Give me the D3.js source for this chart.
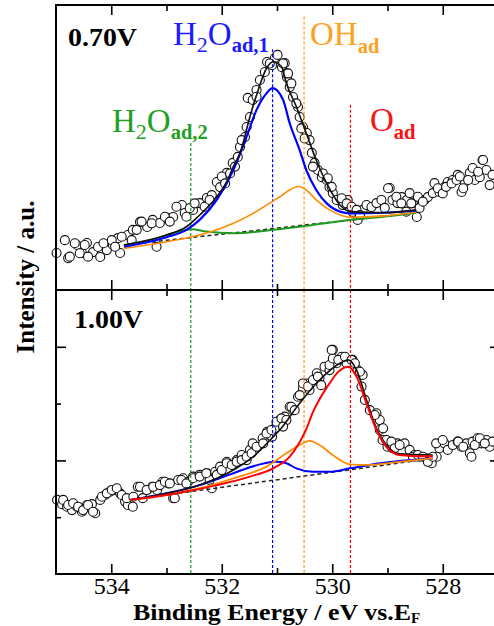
<!DOCTYPE html>
<html>
<head>
<meta charset="utf-8">
<script src="https://cdn.jsdelivr.net/npm/d3@7"></script>
<style>
  body { margin: 0; background: #fff; }
  svg { display: block; }
</style>
</head>
<body>
<svg id="chart" width="494" height="626"></svg>
<script>
// binding energy (eV), intensity (a.u., 0-100 per panel)
const topPoints = [[534.99,13.0],[534.84,17.5],[534.78,11.2],[534.62,15.8],[534.53,13.0],[534.44,16.5],[534.33,13.3],[534.24,15.1],[534.20,11.6],[534.08,14.0],
  [533.97,15.8],[533.88,18.2],[533.84,13.0],[533.70,19.3],[533.61,21.1],[533.48,23.9],[533.35,22.1],[533.25,24.6],[533.12,23.5],[532.99,25.3],
  [532.88,25.6],[532.72,29.8],[532.67,27.0],[532.52,28.1],[532.40,30.5],[532.27,32.3],[532.18,33.3],[532.09,37.9],[532.03,36.1],[531.91,41.1],
  [531.80,44.6],[531.71,46.7],[531.67,50.2],[531.58,53.7],[531.55,57.2],[531.49,60.7],[531.53,67.4],[531.44,66.7],[531.37,70.2],[531.31,73.7],
  [531.22,76.5],[531.18,80.0],[531.09,78.9],[531.04,81.4],[530.99,82.5],[530.91,78.2],[530.86,79.6],[530.82,74.7],[530.77,71.2],[530.71,67.7],
  [530.62,64.2],[530.59,60.7],[530.53,57.2],[530.46,55.1],[530.41,52.6],[530.37,48.1],[530.32,44.6],[530.26,42.1],[530.19,39.6],[530.10,38.6],
  [530.05,36.1],[529.99,34.0],[529.92,31.6],[529.81,29.8],[529.72,31.6],[529.63,27.4],[529.54,24.6],[529.45,28.1],[529.38,29.8],[529.29,29.1],
  [529.20,30.5],[529.11,31.6],[529.05,28.8],[528.96,35.8],[528.91,31.6],[528.82,30.5],[528.74,32.6],[528.65,31.6],[528.60,34.0],[528.54,30.5],
  [528.47,25.6],[528.42,28.8],[528.33,31.6],[528.27,32.6],[528.18,34.0],[528.15,37.5],[528.06,34.4],[527.97,36.1],[527.91,37.9],[527.82,38.6],
  [527.73,40.4],[527.66,34.4],[527.60,37.9],[527.51,41.1],[527.46,42.8],[527.42,38.6],[527.33,39.6],[527.28,45.6],[527.21,42.1],[527.15,36.8],[527.10,40.4],
  [534.75,11.7],[534.66,16.4],[534.57,12.9],[534.48,15.8],[534.42,11.7],[534.14,16.4],[533.99,17.5],[533.93,15.2],[533.81,18.7],[533.63,17.5],
  [533.54,21.1],[533.45,24.0],[533.27,23.4],[533.18,15.2],[533.03,25.7],[532.94,24.0],[532.82,29.2],[532.64,25.7],[532.58,28.7],[532.49,30.4],
  [532.31,29.2],[532.22,31.6],[532.00,39.8],[531.94,37.4],[531.85,40.9],[531.76,43.3],[531.64,52.6],[531.37,67.8],[531.13,79.5],[530.89,79.5],
  [530.83,76.0],[530.80,76.0],[530.74,72.5],[530.65,65.5],[530.56,56.7],[530.50,53.2],[530.35,43.3],[530.17,40.9],[530.08,39.2],[530.01,36.2],
  [529.83,32.2],[529.74,30.4],[529.65,29.2],[529.56,28.1],[529.50,26.3],[528.99,35.7],[528.84,32.7],[528.75,30.4],[528.66,27.5],[528.57,30.4],
  [528.45,32.7],[528.36,31.0],[528.09,35.7],[528.00,33.9],[527.94,36.2],[527.84,37.4],[527.75,38.6],[527.69,39.8],[527.63,35.7],[527.54,38.6],
  [527.36,41.5],[527.27,45.6]];

const botPoints = [[534.98,26.1],[534.89,24.6],[534.80,23.7],[534.71,22.5],[534.62,23.7],[534.53,21.9],[534.44,24.3],[534.35,24.6],[534.29,21.4],[534.20,26.1],
  [534.11,27.8],[534.02,29.0],[533.93,29.6],[533.84,28.4],[533.75,25.5],[533.70,24.3],[533.61,23.7],[533.52,30.7],[533.43,26.7],[533.35,29.6],
  [533.26,30.7],[533.17,29.6],[533.07,32.5],[532.97,31.9],[532.88,26.7],[532.79,33.1],[532.70,33.7],[532.61,32.5],[532.52,34.3],[532.40,34.9],
  [532.27,35.5],[532.22,33.1],[532.12,36.0],[532.03,37.8],[531.91,39.5],[531.80,38.4],[531.73,40.1],[531.64,41.9],[531.55,40.1],[531.49,43.7],
  [531.44,46.0],[531.35,44.8],[531.26,47.8],[531.18,50.1],[531.09,48.3],[531.04,51.3],[530.95,54.2],[530.86,55.4],[530.77,58.9],[530.71,57.7],
  [530.62,62.4],[530.53,65.4],[530.46,67.1],[530.41,64.8],[530.28,70.7],[530.23,68.9],[530.14,73.0],[530.05,71.8],[529.99,78.9],[529.92,74.2],
  [529.83,76.5],[529.74,74.2],[529.63,75.4],[529.54,71.8],[529.45,70.1],[529.41,61.3],[529.32,57.7],[529.20,56.6],[529.14,54.2],[529.14,50.7],
  [529.09,47.2],[529.00,44.8],[528.91,44.3],[528.82,46.0],[528.69,46.0],[528.60,43.7],[528.51,41.9],[528.42,41.3],[528.29,40.7],[528.20,39.0],
  [528.11,41.3],[528.06,44.3],[527.97,46.0],[527.91,43.7],[527.82,45.4],[527.73,46.6],[527.66,44.8],[527.57,46.0],[527.51,42.5],[527.46,46.6],
  [527.37,47.8],[527.30,46.0],[527.21,47.2],[527.15,44.8],[527.10,46.6],
  [534.87,26.1],[534.78,24.3],[534.69,24.9],[534.60,23.7],[534.51,22.5],[534.42,24.3],[534.33,21.9],[534.17,27.2],[534.08,28.4],[533.99,29.6],
  [533.90,30.2],[533.81,27.8],[533.72,26.7],[533.60,27.2],[533.48,30.7],[533.36,29.6],[533.24,30.7],[533.12,31.3],[533.03,32.5],[532.94,31.9],
  [532.85,26.7],[532.73,33.1],[532.64,31.9],[532.52,33.7],[532.40,34.3],[532.28,35.5],[532.18,30.2],[532.09,34.9],[532.00,36.6],[531.91,39.0],
  [531.82,38.4],[531.73,39.5],[531.64,40.1],[531.55,41.3],[531.46,42.5],[531.37,44.8],[531.25,46.0],[531.19,49.5],[531.10,50.7],[531.01,53.6],
  [530.92,54.8],[530.83,54.2],[530.89,51.9],[530.74,58.9],[530.68,57.7],[530.59,63.0],[530.53,67.1],[530.44,66.0],[530.35,68.3],[530.26,69.5],
  [530.20,66.5],[530.05,73.6],[529.99,75.9],[530.01,78.9],[529.89,75.4],[529.77,76.5],[529.65,75.4],[529.59,74.2],[529.50,71.2],[529.47,66.0],
  [529.23,56.0],[529.08,51.3],[529.02,47.2],[528.93,46.6],[528.87,44.3],[528.78,45.4],[528.54,41.3],[528.45,41.9],[528.36,41.3],[528.27,39.5],
  [528.18,41.3],[528.12,46.0],[528.00,47.2],[527.72,46.6],[527.63,44.8],[527.48,41.3],[527.42,45.4],[527.33,47.8],[527.24,46.0]];

// fitted components, 0.70 V
const topTotal = [[533.77,15.8],[533.00,19.3],[532.64,22.2],[532.40,26.3],[532.09,32.7],[531.91,38.0],[531.79,43.3],[531.67,48.0],[531.49,60.8],[531.34,70.2],
  [531.19,77.8],[531.07,80.1],[530.92,78.4],[530.83,72.5],[530.65,64.3],[530.47,55.0],[530.29,45.6],[530.10,37.4],[529.86,29.8],[529.68,27.5],
  [529.08,27.1],[528.48,28.1]];
const topH2O1 = [[533.77,15.2],[533.00,18.5],[532.64,21.1],[532.40,24.6],[532.09,31.6],[531.79,42.1],[531.55,53.8],[531.37,63.2],[531.19,69.0],[531.08,70.8],
  [530.89,66.7],[530.77,58.5],[530.59,49.1],[530.47,42.1],[530.29,35.1],[530.10,30.4],[529.86,27.5],[529.68,26.9],[529.08,27.1],[528.48,27.8]];
const topOH = [[533.77,14.6],[533.00,16.9],[532.40,19.3],[532.09,21.1],[531.79,23.4],[531.43,26.9],[531.19,29.8],[530.95,32.7],[530.77,35.1],[530.62,36.3],
  [530.47,35.1],[530.29,31.6],[530.05,28.1],[529.80,26.0],[529.68,25.5],[529.08,26.0],[528.48,27.3]];
const topH2O2 = [[533.77,15.8],[533.30,17.5],[532.88,19.9],[532.55,21.3],[532.28,20.5],[531.79,19.9],[531.07,21.1],[530.47,22.5],[529.68,24.6],[529.08,25.7],[528.48,27.1]];
const topBase = [[533.77,15.8],[528.48,27.1]];

// fitted components, 1.00 V
const botTotal = [[533.66,26.1],[533.00,28.4],[532.40,31.3],[531.79,36.6],[531.43,41.3],[531.07,48.3],[530.95,50.7],[530.59,60.1],[530.23,68.3],[529.86,74.2],
  [529.71,75.4],[529.56,71.8],[529.38,61.3],[529.20,51.3],[529.02,45.4],[528.78,42.3],[528.18,41.9]];
const botO = [[533.66,26.1],[533.00,27.8],[532.58,29.3],[532.09,31.3],[531.49,34.3],[531.07,37.2],[530.77,41.3],[530.62,45.4],[530.47,51.0],[530.35,57.0],
  [530.23,61.5],[530.05,67.1],[529.90,71.0],[529.71,73.0],[529.56,69.5],[529.38,60.1],[529.20,50.7],[529.02,44.8],[528.78,41.9],[528.48,41.5],[528.18,41.5]];
const botOH = [[533.66,26.1],[533.00,27.8],[532.40,30.2],[531.79,33.7],[531.19,37.8],[530.83,42.5],[530.59,45.4],[530.41,46.9],[530.23,45.4],[529.99,41.9],
  [529.68,38.6],[529.38,38.4],[528.78,39.5],[528.18,40.7]];
const botH2O1 = [[533.66,26.1],[533.00,28.4],[532.40,31.3],[531.79,35.5],[531.31,38.6],[531.01,39.5],[530.83,39.0],[530.65,37.2],[530.35,36.0],[530.05,36.0],
  [529.68,37.2],[529.14,39.0],[528.18,40.7]];
const botBase = [[533.66,26.1],[528.18,40.7]];

// peak positions (eV) and where the dashed line starts in the top panel
const peakPos = [532.56, 531.08, 530.51, 529.67];
const peakColor = ["#1f9a1f", "#0000ff", "#ff9a10", "#ff0000"];
const peakTopStart = [51.6, 84.5, 96, 65];

const majorX = [528, 530, 532, 534];
const minorX = [529, 531, 533];
const majorY = [40, 80];
const minorY = [20, 60];

const padL = 56, padR = 498, padT = 5, padM = 290, padB = 574;
const serif = "'Liberation Serif', 'Times New Roman', serif";

const svg = d3.select('#chart');

const x = d3.scaleLinear().domain([535, 527]).range([padL, padR]);
const yTop = d3.scaleLinear().domain([0, 100]).range([padM, padT]);
const yBot = d3.scaleLinear().domain([0, 100]).range([padB, padM]);

function drawPanel(points, y, fits, base, starts){
  const g = svg.append('g');

  g.selectAll('circle')
    .data(points)
    .join('circle')
    .attr('cx', d => x(d[0]))
    .attr('cy', d => y(d[1]))
    .attr('r', 4.5)
    .attr('fill', '#fff')
    .attr('stroke', '#111')
    .attr('stroke-width', 1.1);

  // peak markers
  g.selectAll('line.peak')
    .data(peakPos)
    .join('line')
    .attr('class', 'peak')
    .attr('x1', d => x(d)).attr('x2', d => x(d))
    .attr('y1', (d, i) => y(starts[i]))
    .attr('y2', y(0))
    .attr('stroke', (d, i) => peakColor[i])
    .attr('stroke-width', 1.2)
    .attr('stroke-dasharray', '3,2');

  const line = d3.line()
    .x(d => x(d[0]))
    .y(d => y(d[1]))
    .curve(d3.curveMonotoneX);

  g.append('path')
    .attr('d', line(base))
    .attr('fill', 'none')
    .attr('stroke', '#222')
    .attr('stroke-width', 1.5)
    .attr('stroke-dasharray', '4,3');

  fits.forEach(f => {
    g.append('path')
      .attr('d', line(f.data))
      .attr('fill', 'none')
      .attr('stroke', f.color)
      .attr('stroke-width', f.w);
  });
}

drawPanel(topPoints, yTop, [
  {data: topH2O2, color: '#1f9a1f', w: 2},
  {data: topOH, color: '#ff8c00', w: 1.6},
  {data: topH2O1, color: '#0000ff', w: 2.2},
  {data: topTotal, color: '#111', w: 1.6}
], topBase, peakTopStart);

drawPanel(botPoints, yBot, [
  {data: botH2O1, color: '#0000ff', w: 2},
  {data: botOH, color: '#ff8c00', w: 1.8},
  {data: botTotal, color: '#111', w: 1.6},
  {data: botO, color: '#ff0000', w: 2}
], botBase, [100, 100, 100, 100]);

// axes: ticks point into each panel
function ticks(axis, tx, ty){
  svg.append('g')
    .attr('transform', `translate(${tx},${ty})`)
    .call(axis)
    .call(g => g.select('.domain').remove())
    .call(g => g.selectAll('line').attr('stroke', '#000').attr('stroke-width', 1.6));
}

const noLab = () => '';
[[padT, d3.axisTop], [padM, d3.axisBottom], [padM, d3.axisTop]].forEach(([yy, ax]) => {
  ticks(ax(x).tickValues(majorX).tickSize(-10).tickFormat(noLab), 0, yy);
  ticks(ax(x).tickValues(minorX).tickSize(-6).tickFormat(noLab), 0, yy);
});
ticks(d3.axisBottom(x).tickValues(minorX).tickSize(-6).tickFormat(noLab), 0, padB);

svg.append('g')
  .attr('transform', `translate(0,${padB})`)
  .call(d3.axisBottom(x).tickValues(majorX).tickSize(-10).tickPadding(3).tickFormat(d3.format('d')))
  .call(g => g.select('.domain').remove())
  .call(g => g.selectAll('line').attr('stroke', '#000').attr('stroke-width', 1.6))
  .call(g => g.selectAll('text')
    .attr('fill', '#000')
    .style('font-family', serif)
    .style('font-size', '24px'));

ticks(d3.axisLeft(yBot).tickValues(majorY).tickSize(-10).tickFormat(noLab), padL, 0);
ticks(d3.axisLeft(yBot).tickValues(minorY).tickSize(-5).tickFormat(noLab), padL, 0);
ticks(d3.axisRight(yBot).tickValues(majorY).tickSize(-8).tickFormat(noLab), padR, 0);
ticks(d3.axisRight(yBot).tickValues(minorY).tickSize(-4).tickFormat(noLab), padR, 0);

// frame
svg.append('rect')
  .attr('x', padL).attr('y', padT)
  .attr('width', padR - padL).attr('height', padB - padT)
  .attr('fill', 'none').attr('stroke', '#000').attr('stroke-width', 2);
svg.append('line')
  .attr('x1', padL).attr('x2', padR).attr('y1', padM).attr('y2', padM)
  .attr('stroke', '#000').attr('stroke-width', 2);

// panel labels
function boldLabel(txt, tx, ty){
  svg.append('text')
    .attr('x', tx).attr('y', ty)
    .attr('textLength', 69).attr('lengthAdjust', 'spacingAndGlyphs')
    .style('font-family', serif).style('font-weight', 'bold').style('font-size', '25px')
    .text(txt);
}
boldLabel('0.70V', 68, 46);
boldLabel('1.00V', 74, 328);

// species labels: [text, size, bold, dy]
function species(tx, ty, color, parts){
  const t = svg.append('text')
    .attr('x', tx).attr('y', ty)
    .attr('fill', color)
    .style('font-family', serif);
  parts.forEach(p => {
    t.append('tspan')
      .attr('dy', p[3])
      .style('font-size', p[1] + 'px')
      .style('font-weight', p[2] ? 'bold' : 'normal')
      .text(p[0]);
  });
}
species(173, 45, '#1a1aff', [['H', 33, 0, 0], ['2', 22, 0, 7], ['O', 33, 0, -7], ['ad,1', 20.5, 1, 7]]);
species(310, 45, '#ffa020', [['OH', 33, 0, 0], ['ad', 20.5, 1, 8]]);
species(112, 131.5, '#22a022', [['H', 33, 0, 0], ['2', 22, 0, 7], ['O', 33, 0, -7], ['ad,2', 20.5, 1, 7]]);
species(370, 131, '#ff1010', [['O', 33, 0, 0], ['ad', 20.5, 1, 7.5]]);

// axis titles
const xt = svg.append('text')
  .attr('x', 133).attr('y', 620)
  .style('font-family', serif).style('font-weight', 'bold').style('font-size', '23px');
xt.append('tspan').attr('textLength', 278).attr('lengthAdjust', 'spacingAndGlyphs').text('Binding Energy / eV vs.E');
xt.append('tspan').attr('dy', 3).style('font-size', '15px').text('F');

svg.append('text')
  .attr('transform', 'translate(34,277) rotate(-90)')
  .attr('text-anchor', 'middle')
  .style('font-family', serif).style('font-weight', 'bold').style('font-size', '25px')
  .text('Intensity / a.u.');
</script>
</body>
</html>
